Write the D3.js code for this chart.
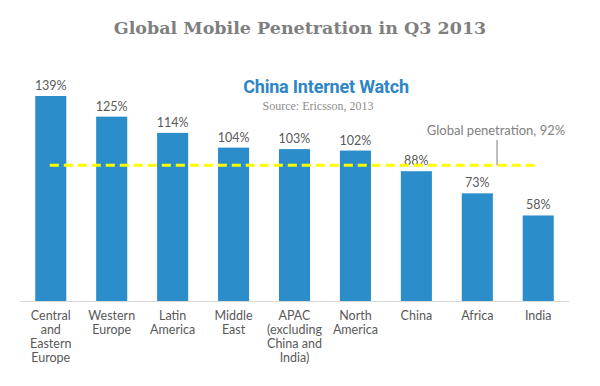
<!DOCTYPE html>
<html lang="en">
<head>
<meta charset="UTF-8" />
<title>Global Mobile Penetration in Q3 2013</title>
<script src="https://d3js.org/d3.v7.min.js"></script>
<style>
  body{margin:0;background:#fff;}
  .lbl{font-family:"Lato","Noto Sans",sans-serif;font-size:12.5px;fill:#595959;}
</style>
</head>
<body>
<script>
var categories = [
  ["Central","and","Eastern","Europe"],
  ["Western","Europe"],
  ["Latin","America"],
  ["Middle","East"],
  ["APAC","(excluding","China and","India)"],
  ["North","America"],
  ["China"],
  ["Africa"],
  ["India"]
];
var values = [139, 125, 114, 104, 103, 102, 88, 73, 58];
var globalValue = 92;

var width = 600, height = 386;
var svg = d3.select("body").append("svg").attr("width", width).attr("height", height);

var x = d3.scaleBand().domain(d3.range(values.length)).range([20, 569]).paddingInner(0.49).paddingOuter(0.25);
var y = d3.scaleLinear().domain([0, 139]).range([301, 96]);

svg.append("text").attr("x", 300).attr("y", 34).attr("text-anchor", "middle")
  .style("font-family", "'DejaVu Serif','Liberation Serif',serif").style("font-weight", "bold")
  .style("font-size", "17.5px").style("fill", "#7f7f7f").text("Global Mobile Penetration in Q3 2013");

svg.append("text").attr("x", 326).attr("y", 93).attr("text-anchor", "middle")
  .style("font-family", "'Liberation Sans Narrow','Roboto','Liberation Sans',sans-serif").style("font-weight", "bold")
  .style("font-size", "18px").style("fill", "#2e86c8").style("letter-spacing", "-0.2px").text("China Internet Watch");

svg.append("text").attr("x", 318).attr("y", 110).attr("text-anchor", "middle")
  .style("font-family", "'Liberation Serif',serif").style("font-size", "12px").style("fill", "#8c8c8c")
  .text("Source: Ericsson, 2013");

svg.selectAll("rect.bar").data(values).enter().append("rect").attr("class", "bar")
  .attr("x", function(d, i){ return x(i); })
  .attr("y", function(d){ return y(d); })
  .attr("width", x.bandwidth())
  .attr("height", function(d){ return y(0) - y(d); })
  .attr("fill", "#2b8dca");

svg.append("line").attr("x1", 20).attr("x2", 569).attr("y1", y(0) + 0.5).attr("y2", y(0) + 0.5)
  .attr("stroke", "#d9d9d9").attr("stroke-width", 1);

svg.selectAll("text.val").data(values).enter().append("text").attr("class", "lbl")
  .attr("x", function(d, i){ return x(i) + x.bandwidth() / 2; })
  .attr("y", function(d){ return y(d) - 6; })
  .attr("text-anchor", "middle")
  .text(function(d){ return d + "%"; });

var cat = svg.selectAll("text.cat").data(categories).enter().append("text").attr("class", "lbl")
  .attr("text-anchor", "middle")
  .attr("transform", function(d, i){ return "translate(" + (x(i) + x.bandwidth() / 2) + ",320)"; });
cat.selectAll("tspan").data(function(d){ return d; }).enter().append("tspan")
  .attr("x", 0).attr("dy", function(d, j){ return j === 0 ? 0 : 14; })
  .text(function(d){ return d; });

// global average line
var gy = y(globalValue);
svg.append("line").attr("x1", x(0) + x.bandwidth() / 2 - 1).attr("x2", x(8) + x.bandwidth() / 2)
  .attr("y1", gy).attr("y2", gy)
  .attr("stroke", "#ffff00").attr("stroke-width", 3).attr("stroke-dasharray", "9,5");
svg.append("line").attr("x1", 497).attr("x2", 497).attr("y1", 140).attr("y2", gy)
  .attr("stroke", "#7f7f7f").attr("stroke-width", 1);
svg.append("text").attr("class", "lbl").attr("x", 496).attr("y", 135).attr("text-anchor", "middle")
  .style("fill", "#7f7f7f").style("font-size", "13px").text("Global penetration, 92%");
</script>
</body>
</html>
